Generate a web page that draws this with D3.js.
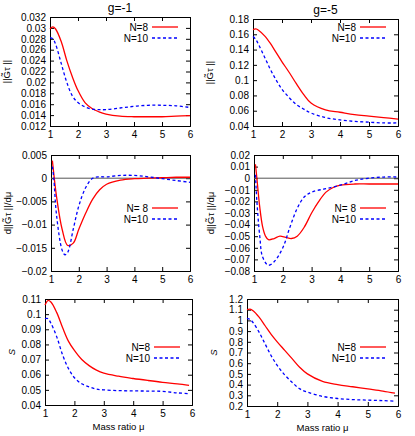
<!DOCTYPE html>
<html><head><meta charset="utf-8">
<script src="https://cdn.jsdelivr.net/npm/d3@7"></script>
<style>body{margin:0;background:#fff}text{font-family:"Liberation Sans",Arial,sans-serif}</style>
</head><body>
<script>
// x grids
var xA = [1,1.1,1.2,1.4,1.6,1.8,2,2.25,2.5,2.75,3,3.5,4,4.5,5,5.5,6];
var xS = [1,1.1,1.2,1.4,1.6,1.8,2,2.25,2.5,2.75,3,3.5,4,4.5,5,5.5,5.9];

// g=-1 norm
var g1N8 = [0.0298,0.0302,0.0298,0.0275,0.0240,0.0210,0.0185,0.0163,0.0152,0.0146,0.0142,0.0138,0.0137,0.0137,0.0137,0.0138,0.0139];
var g1N10 = [0.0282,0.0280,0.0270,0.0235,0.0200,0.0175,0.0163,0.0155,0.0151,0.0150,0.0150,0.0153,0.0156,0.0158,0.0158,0.0157,0.0154];
// g=-1 derivative
var xD1a = [1.05,1.1,1.2,1.4,1.6,1.8,2,2.25,2.5,2.75,3,3.5,4,4.5,5,5.5,6];
var d1N8 = [0.0038,0.001,-0.004,-0.011,-0.0145,-0.014,-0.011,-0.0075,-0.0045,-0.0025,-0.0013,-0.0004,-0.0001,0,0.0001,0.0002,0.0002];
var xD1b = [1.05,1.1,1.2,1.4,1.5,1.6,1.8,2,2.25,2.5,2.75,3,3.5,4,4.5,5,5.5,6];
var d1N10 = [0.0025,0,-0.008,-0.0155,-0.0165,-0.016,-0.011,-0.006,-0.002,0,0.0003,0.0003,0.0006,0.0006,0.0003,-0.0001,-0.0005,-0.0009];
// g=-1 S
var s1N8 = [0.106,0.109,0.108,0.101,0.091,0.082,0.076,0.070,0.066,0.063,0.061,0.059,0.0575,0.0562,0.055,0.054,0.053];
var s1N10 = [0.097,0.097,0.094,0.085,0.073,0.064,0.058,0.054,0.052,0.0505,0.050,0.0495,0.0493,0.0492,0.049,0.048,0.0475];

// g=-5 norm
var g5N8 = [0.166,0.167,0.165,0.158,0.148,0.136,0.124,0.110,0.095,0.081,0.070,0.061,0.058,0.055,0.053,0.051,0.049];
var g5N10 = [0.157,0.153,0.146,0.130,0.114,0.100,0.088,0.077,0.068,0.062,0.057,0.051,0.048,0.046,0.045,0.044,0.044];
// g=-5 derivative
var xD5a = [1.05,1.1,1.2,1.3,1.4,1.5,1.7,1.9,2.1,2.3,2.5,2.75,3,3.25,3.5,3.75,4,4.5,5,6];
var d5N8 = [0.012,0,-0.025,-0.042,-0.050,-0.053,-0.052,-0.050,-0.051,-0.052,-0.050,-0.042,-0.030,-0.020,-0.012,-0.008,-0.006,-0.005,-0.005,-0.005];
var xD5b = [1.05,1.1,1.2,1.3,1.5,1.7,2,2.25,2.5,2.75,3,3.5,4,4.5,5,5.5,6];
var d5N10 = [0.003,-0.02,-0.05,-0.068,-0.075,-0.072,-0.060,-0.042,-0.026,-0.016,-0.012,-0.009,-0.006,-0.002,0,0.001,0.001];
// g=-5 S
var s5N8 = [1.10,1.105,1.09,1.03,0.95,0.87,0.80,0.72,0.64,0.56,0.50,0.43,0.40,0.38,0.36,0.34,0.32];
var s5N10 = [1.02,1.01,0.98,0.89,0.78,0.67,0.58,0.49,0.42,0.36,0.33,0.29,0.27,0.26,0.255,0.25,0.245];

var xTicks = [1,2,3,4,5,6];
var normLabel = "||G\u0303\u03c4 ||";
var derLabel = "d||G\u0303\u03c4 ||/d\u03bc";

var panels = [
  {l:50, r:190, t:17, b:126, y:[0.012,0.032], yt:d3.range(0.012,0.0321,0.002), fmt:d3.format(".3~f"),
   yl:normLabel, title:"g=-1", s:[[xA,g1N8],[xA,g1N10]], leg:["N=8","N=10"], ly:27},
  {l:253, r:398, t:19, b:126, y:[0.04,0.18], yt:d3.range(0.04,0.181,0.02), fmt:d3.format(".2~f"),
   yl:normLabel, title:"g=-5", s:[[xA,g5N8],[xA,g5N10]], leg:["N=8","N=10"], ly:27},
  {l:51, r:190, t:155, b:271, y:[-0.02,0.005], yt:d3.range(-0.02,0.0051,0.005), fmt:d3.format(".3~f"),
   yl:derLabel, zero:true, s:[[xD1a,d1N8],[xD1b,d1N10]], leg:["N= 8","N=10"], ly:208},
  {l:254, r:398, t:155, b:271, y:[-0.08,0.02], yt:d3.range(-0.08,0.0201,0.01), fmt:d3.format(".2~f"),
   yl:derLabel, zero:true, s:[[xD5a,d5N8],[xD5b,d5N10]], leg:["N= 8","N=10"], ly:208},
  {l:45, r:192, t:299, b:405, y:[0.04,0.11], yt:d3.range(0.04,0.1101,0.01), fmt:d3.format(".2~f"),
   yl:"S", xl:true, s:[[xS,s1N8],[xS,s1N10]], leg:["N=8","N=10"], ly:347},
  {l:247, r:398, t:299, b:406, y:[0.2,1.2], yt:d3.range(0.2,1.201,0.1), fmt:d3.format(".1~f"),
   yl:"S", xl:true, s:[[xS,s5N8],[xS,s5N10]], leg:["N=8","N=10"], ly:347}
];

var svg = d3.select("body").append("svg").attr("width",415).attr("height",436);
var colors = ["#ff0000","#0000ff"];
var dashes = [null,"3,2.5"];

panels.forEach(function(p){
  var x = d3.scaleLinear().domain([1,6]).range([p.l,p.r]);
  var y = d3.scaleLinear().domain(p.y).range([p.b,p.t]);
  var g = svg.append("g");

  var ax = d3.axisBottom(x).tickValues(xTicks).tickFormat(d3.format("d")).tickSize(-4).tickPadding(5);
  g.append("g").attr("transform","translate(0,"+p.b+")").call(ax);
  g.append("g").attr("transform","translate(0,"+p.t+")").call(d3.axisTop(x).tickValues(xTicks).tickSize(-4).tickFormat(""));
  g.append("g").attr("transform","translate("+p.l+",0)").call(d3.axisLeft(y).tickValues(p.yt).tickSize(-4).tickPadding(4).tickFormat(p.fmt));
  g.append("g").attr("transform","translate("+p.r+",0)").call(d3.axisRight(y).tickValues(p.yt).tickSize(-4).tickFormat(""));
  g.selectAll(".domain").attr("stroke","#000");
  g.selectAll(".tick text").attr("font-size",10).attr("fill","#000");

  if (p.zero) g.append("line").attr("x1",p.l).attr("x2",p.r).attr("y1",y(0)).attr("y2",y(0)).attr("stroke","#555");

  var line = d3.line().x(function(d){return x(d[0]);}).y(function(d){return y(d[1]);}).curve(d3.curveCatmullRom);
  p.s.forEach(function(s,i){
    var pts = s[0].map(function(v,k){return [v,s[1][k]];});
    g.append("path").attr("d",line(pts)).attr("fill","none").attr("stroke",colors[i])
      .attr("stroke-width",1.3).attr("stroke-dasharray",dashes[i]);
  });

  p.leg.forEach(function(t,i){
    var yy = p.ly + i*11;
    g.append("text").attr("x",p.r-42).attr("y",yy+3.5).attr("text-anchor","end").attr("font-size",10).text(t);
    g.append("line").attr("x1",p.r-38).attr("x2",p.r-12).attr("y1",yy).attr("y2",yy)
      .attr("stroke",colors[i]).attr("stroke-width",1.3).attr("stroke-dasharray",dashes[i]);
  });

  var cy = (p.t+p.b)/2, lx = p.l - (p.xl ? 30 : 40);
  g.append("text").attr("transform","translate("+lx+","+cy+") rotate(-90)").attr("text-anchor","middle")
    .attr("font-size",9.5).attr("font-style",p.yl==="S"?"italic":null).text(p.yl);
  if (p.title) g.append("text").attr("x",(p.l+p.r)/2).attr("y",p.t-5).attr("text-anchor","middle").attr("font-size",12).text(p.title);
  if (p.xl) g.append("text").attr("x",(p.l+p.r)/2).attr("y",p.b+25).attr("text-anchor","middle").attr("font-size",9.5).text("Mass ratio \u03bc");
});
</script>
</body></html>
